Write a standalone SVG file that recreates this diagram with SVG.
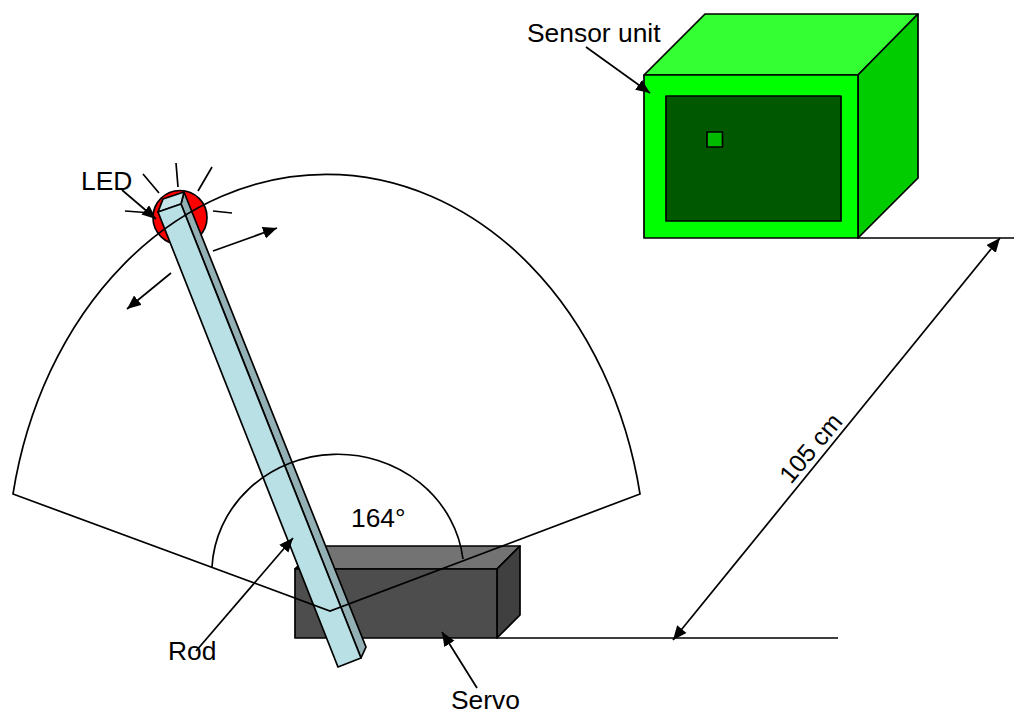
<svg xmlns="http://www.w3.org/2000/svg" width="1024" height="723" viewBox="0 0 1024 723">
<defs>
<marker id="ah" markerUnits="userSpaceOnUse" markerWidth="16" markerHeight="13" refX="14" refY="6" orient="auto"><path d="M0 0L14 6L0 12Z" fill="#000"/></marker>
<marker id="as" markerUnits="userSpaceOnUse" markerWidth="16" markerHeight="13" refX="0" refY="6" orient="auto"><path d="M14 0L0 6L14 12Z" fill="#000"/></marker>
</defs>
<style>
.l{fill:none;stroke:#000;stroke-width:1.700}
.s{stroke:#000;stroke-width:1.700;stroke-linejoin:round}
.c{fill:none;stroke:#000;stroke-width:1.700;marker-end:url(#ah)}
text{font-family:"Liberation Sans",Arial,sans-serif;font-size:26.400px;fill:#000}
</style>
<rect width="1024" height="723" fill="#fff"/>
<g id="sensor-unit">
<path class="s" d="M644 75L705 14H918L858 75Z" fill="#33ff33"/>
<path class="s" d="M858 75L918 14V178L858 238Z" fill="#00cc00"/>
<rect class="s" x="644" y="75" width="214" height="163" fill="#00ff00"/>
<rect class="s" x="666" y="96" width="175" height="125" fill="#005900"/>
<rect class="s" x="707" y="132" width="15.500" height="15" fill="#00bb00"/>
</g>
<g id="servo">
<path class="s" d="M295 569L320 546H520L497 569Z" fill="#737373"/>
<path class="s" d="M497 569L520 546V615L497 638Z" fill="#404040"/>
<rect class="s" x="295" y="569" width="202" height="69" fill="#4d4d4d"/>
</g>
<g id="led">
<circle class="s" cx="180" cy="217.500" r="27" fill="#ff0000"/>
</g>
<g id="rod">
<path class="s" d="M181 204L184 192L366 647L361 658Z" fill="#93b0b5"/>
<path class="s" d="M158 212L163 199L184 192L181 204Z" fill="#c6e6ea"/>
<path class="s" d="M158 212L181 204L361 658L338 667Z" fill="#b8e0e5"/>
</g>
<g id="connectors">
<path class="l" d="M13 494A319.500 396 0 0 1 640 494L330 611Z"/>
<path class="l" d="M212 567A126 118.500 0 0 1 463 559"/>
<path class="l" d="M858 238H1014M497 638H838"/>
<path class="l" d="M143 174L159 193M176 163L178 187M212 167L198 191M125 211L152 213M213 211L232 213"/>
<path class="c" d="M213 251L277 228"/>
<path class="c" d="M171 273L127 309"/>
<path class="c" d="M122 190L156 219"/>
<path class="c" d="M586 47L650 93"/>
<path class="c" d="M196 651L293 538"/>
<path class="c" d="M477 688L442 632"/>
<path class="c" style="marker-start:url(#as)" d="M673 640L1000 238"/>
</g>
<g id="labels">
<text x="527" y="42">Sensor unit</text>
<text x="81" y="190">LED</text>
<text x="351" y="527">164°</text>
<text x="168" y="660">Rod</text>
<text x="451" y="709">Servo</text>
<text transform="translate(791 485) rotate(-50)" style="font-size:25px">105 cm</text>
</g>
</svg>
